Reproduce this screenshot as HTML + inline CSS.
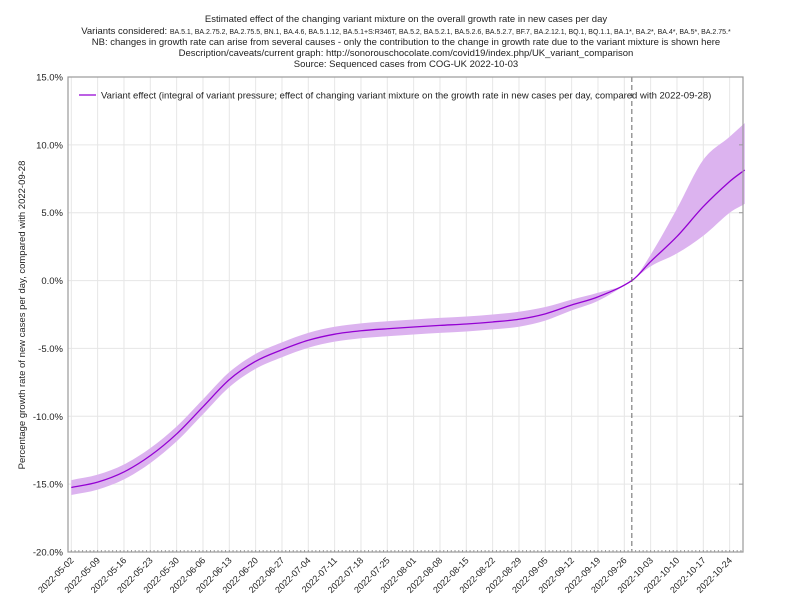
<!DOCTYPE html>
<html><head><meta charset="utf-8"><style>
body{margin:0;background:#fff;font-family:"Liberation Sans","DejaVu Sans",sans-serif;}
svg text{font-family:"Liberation Sans","DejaVu Sans",sans-serif;}
</style></head><body>
<svg id="chart" width="812" height="609" viewBox="0 0 812 609" xmlns="http://www.w3.org/2000/svg">
<g font-size="9.5" text-anchor="middle" fill="#222">
<text x="406" y="22">Estimated effect of the changing variant mixture on the overall growth rate in new cases per day</text>
<text x="406" y="34">Variants considered: <tspan font-size="7">BA.5.1, BA.2.75.2, BA.2.75.5, BN.1, BA.4.6, BA.5.1.12, BA.5.1+S:R346T, BA.5.2, BA.5.2.1, BA.5.2.6, BA.5.2.7, BF.7, BA.2.12.1, BQ.1, BQ.1.1, BA.1*, BA.2*, BA.4*, BA.5*, BA.2.75.*</tspan></text>
<text x="406" y="45">NB: changes in growth rate can arise from several causes - only the contribution to the change in growth rate due to the variant mixture is shown here</text>
<text x="406" y="56">Description/caveats/current graph: http://sonorouschocolate.com/covid19/index.php/UK_variant_comparison</text>
<text x="406" y="67">Source: Sequenced cases from COG-UK 2022-10-03</text>
</g>
<g id="grid"></g>
<g id="band"></g>
<g id="lines"></g>
<g id="axes"></g>
<text x="25" y="315" transform="rotate(-90 25 315)" font-size="9.5" text-anchor="middle" fill="#222">Percentage growth rate of new cases per day, compared with 2022-09-28</text>
<g>
<line x1="79" y1="95" x2="96" y2="95" stroke="#9400d3" stroke-width="1.3"/>
<text x="101" y="98.5" font-size="9.5" fill="#222">Variant effect (integral of variant pressure; effect of changing variant mixture on the growth rate in new cases per day, compared with 2022-09-28)</text>
</g>
</svg>
<script>
const dates=["2022-05-02","2022-05-09","2022-05-16","2022-05-23","2022-05-30","2022-06-06","2022-06-13","2022-06-20","2022-06-27","2022-07-04","2022-07-11","2022-07-18","2022-07-25","2022-08-01","2022-08-08","2022-08-15","2022-08-22","2022-08-29","2022-09-05","2022-09-12","2022-09-19","2022-09-28","2022-10-03","2022-10-10","2022-10-17","2022-10-24","2022-10-28"];
const mid=[-15.25,-14.85,-14.1,-12.9,-11.3,-9.3,-7.3,-5.95,-5.1,-4.4,-3.95,-3.7,-3.55,-3.42,-3.3,-3.2,-3.05,-2.85,-2.45,-1.8,-1.2,0,1.4,3.25,5.45,7.3,8.15];
const lower=[-15.8,-15.4,-14.65,-13.45,-11.85,-9.85,-7.85,-6.5,-5.65,-4.95,-4.5,-4.25,-4.1,-3.97,-3.85,-3.75,-3.6,-3.4,-2.95,-2.2,-1.5,0,1.05,2.0,3.3,5.0,5.65];
const upper=[-14.7,-14.3,-13.55,-12.35,-10.75,-8.75,-6.75,-5.4,-4.55,-3.85,-3.4,-3.15,-3.0,-2.87,-2.75,-2.65,-2.5,-2.3,-1.95,-1.4,-0.9,0,1.9,5.3,8.9,10.6,11.6];
const yTicks=[15,10,5,0,-5,-10,-15,-20];
const xTickLabels=["2022-05-02","2022-05-09","2022-05-16","2022-05-23","2022-05-30","2022-06-06","2022-06-13","2022-06-20","2022-06-27","2022-07-04","2022-07-11","2022-07-18","2022-07-25","2022-08-01","2022-08-08","2022-08-15","2022-08-22","2022-08-29","2022-09-05","2022-09-12","2022-09-19","2022-09-26","2022-10-03","2022-10-10","2022-10-17","2022-10-24"];
const refDate="2022-09-28";

const NS="http://www.w3.org/2000/svg";
const L=68,R=743,T=77,B=552;
const d0=Date.UTC(2022,4,2);
function day(s){const p=s.split("-");return (Date.UTC(+p[0],p[1]-1,+p[2])-d0)/864e5;}
function X(s){return 71.3+day(s)*3.762;}
function Y(v){return T+(15-v)*(B-T)/35;}
function mk(tag,parent,attrs){const e=document.createElementNS(NS,tag);for(const k in attrs)e.setAttribute(k,attrs[k]);parent.appendChild(e);return e;}
function spline(pts){
 const n=pts.length,m=[];
 for(let i=0;i<n;i++){const a=pts[Math.max(i-1,0)],b=pts[Math.min(i+1,n-1)];m.push((b[1]-a[1])/(b[0]-a[0]));}
 let d="M"+pts[0][0]+","+pts[0][1];
 for(let i=0;i<n-1;i++){const p1=pts[i],p2=pts[i+1],h=(p2[0]-p1[0])/3;
  d+=" C"+(p1[0]+h)+","+(p1[1]+m[i]*h)+" "+(p2[0]-h)+","+(p2[1]-m[i+1]*h)+" "+p2[0]+","+p2[1];}
 return d;}
const grid=document.getElementById("grid"),axes=document.getElementById("axes"),band=document.getElementById("band"),lines=document.getElementById("lines");
yTicks.forEach(v=>{
 const g=mk("line",grid,{x1:L,x2:R,y1:Y(v),y2:Y(v),stroke:"#e6e6e6","stroke-width":1});
 
 
 const t=mk("text",axes,{x:63,y:Y(v)+3.5,"font-size":9.5,"text-anchor":"end",fill:"#222"});
 t.textContent=v.toFixed(1)+"%";
 
 
 const tk=mk("line",axes,{x1:R-4,x2:R,y1:Y(v),y2:Y(v),stroke:"#999"});
 
 
});
xTickLabels.forEach(s=>{
 const x=X(s);
 const g=mk("line",grid,{x1:x,x2:x,y1:T,y2:B,stroke:"#e6e6e6","stroke-width":1});
 
 
 const t=mk("text",axes,{x:x+3,y:B+9,"font-size":9,"text-anchor":"end",fill:"#222",transform:"rotate(-45 "+(x+3)+" "+(B+9)+")"});
 t.textContent=s;
 
 
});
for(let dd=-1;dd*3.762+71.3<R;dd++){const x=71.3+dd*3.762;if(x<L)continue;const tk=mk("line",axes,{x1:x,x2:x,y1:B-2,y2:B,stroke:"#999"});
 
 }
const up=dates.map((s,i)=>[X(s),Y(upper[i])]),lo=dates.map((s,i)=>[X(s),Y(lower[i])]).reverse();
const bp=mk("path",band,{d:spline(up)+" L"+spline(lo).slice(1)+" Z",fill:"#dcb3ef",stroke:"none"});


const lp=mk("path",lines,{d:spline(dates.map((s,i)=>[X(s),Y(mid[i])])),fill:"none",stroke:"#9400d3","stroke-width":1.3});


const rx=X(refDate);
const rl=mk("line",lines,{x1:rx,x2:rx,y1:T,y2:B,stroke:"#666","stroke-dasharray":"5,3","stroke-width":1});


const fr=mk("rect",axes,{x:L,y:T,width:R-L,height:B-T,fill:"none",stroke:"#999","stroke-width":1.2});


</script>
</body></html>
